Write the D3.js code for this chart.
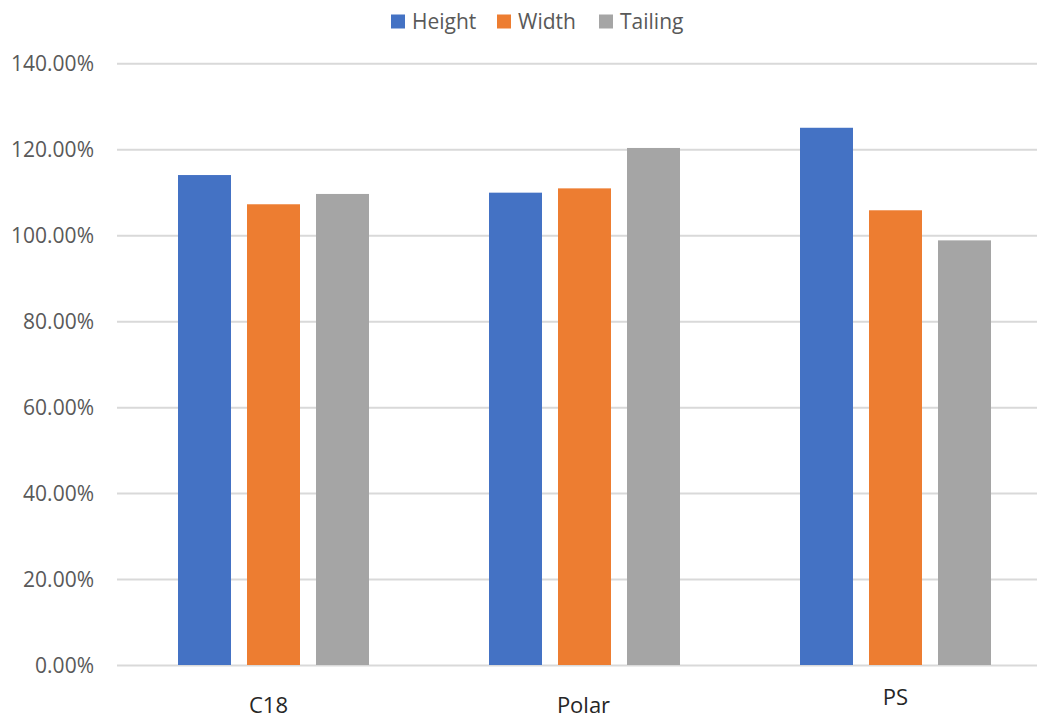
<!DOCTYPE html>
<html>
<head>
<meta charset="utf-8">
<script src="https://cdn.jsdelivr.net/npm/d3@7"></script>
<style>
  html, body { margin: 0; padding: 0; background: #fff; }
  svg { display: block; font-family: "Open Sans", "Noto Sans", sans-serif; }
</style>
</head>
<body>
<svg id="chart" width="1037" height="719"></svg>
<script>
// Column categories and the three measured series (percent)
const categories = ["C18", "Polar", "PS"];
const seriesNames = ["Height", "Width", "Tailing"];
const heightValues = [114.0, 109.9, 125.0];
const widthValues = [107.2, 110.9, 105.8];
const tailingValues = [109.6, 120.3, 98.8];
const yTicks = [0, 20, 40, 60, 80, 100, 120, 140];

const seriesValues = [heightValues, widthValues, tailingValues];
const colors = ["#4472C4", "#ED7D31", "#A5A5A5"];
const FONT = '"Open Sans", "Noto Sans", sans-serif';

const svg = d3.select("#chart");
const plot = { left: 118, right: 1051, top: 63.3, bottom: 665 };

const y = d3.scaleLinear().domain([0, 140]).range([plot.bottom, plot.top]);

const x0 = d3.scaleBand()
  .domain(categories)
  .range([plot.left, plot.right])
  .paddingInner(120 / 311)
  .paddingOuter(60 / 311);

const x1 = d3.scaleBand()
  .domain(seriesNames)
  .range([0, x0.bandwidth()])
  .paddingInner(16 / 69)
  .paddingOuter(0);

// Horizontal gridlines with right-aligned percent labels
const yAxis = d3.axisLeft(y)
  .tickValues(yTicks)
  .tickSize(-(1037 - 117))
  .tickPadding(23)
  .tickFormat(d => d.toFixed(2) + "%");

const yg = svg.append("g")
  .attr("transform", "translate(117,0)")
  .call(yAxis)
  .attr("font-family", FONT);
yg.select(".domain").remove();
yg.selectAll(".tick line").attr("stroke", "#d9d9d9").attr("stroke-width", 2);
yg.selectAll(".tick text")
  .attr("fill", "#595959")
  .style("font-size", "21px")
  .attr("dy", "0.35em");

// Bars
const groups = svg.append("g")
  .selectAll("g")
  .data(categories)
  .join("g")
  .attr("transform", d => `translate(${x0(d)},0)`);

groups.selectAll("rect")
  .data((c, i) => seriesNames.map((s, k) => ({ s, k, v: seriesValues[k][i] })))
  .join("rect")
  .attr("x", d => x1(d.s))
  .attr("width", x1.bandwidth())
  .attr("y", d => y(d.v))
  .attr("height", d => y(0) - y(d.v))
  .attr("fill", d => colors[d.k]);

// Category labels below the baseline
const labelShift = { "C18": [-5, 0], "Polar": [-1, 0], "PS": [0, -8] };
const xAxis = d3.axisBottom(x0).tickSize(0).tickPadding(0);
const xg = svg.append("g")
  .attr("transform", `translate(0,${plot.bottom})`)
  .call(xAxis)
  .attr("font-family", FONT);
xg.select(".domain").remove();
xg.selectAll(".tick text")
  .attr("fill", "#262626")
  .style("font-size", "22px")
  .attr("dy", null)
  .attr("y", d => 48 + labelShift[d][1])
  .attr("x", d => labelShift[d][0]);

// Legend
const legendItems = [
  { name: "Height", x: 391 },
  { name: "Width", x: 497 },
  { name: "Tailing", x: 599 }
];
const legend = svg.append("g");
legendItems.forEach((it, i) => {
  legend.append("rect")
    .attr("x", it.x).attr("y", 14.5)
    .attr("width", 14).attr("height", 14)
    .attr("fill", colors[i]);
  legend.append("text")
    .attr("x", it.x + 21).attr("y", 28.5)
    .attr("fill", "#595959")
    .style("font-size", "21px")
    .text(seriesNames[i]);
});
</script>
</body>
</html>
